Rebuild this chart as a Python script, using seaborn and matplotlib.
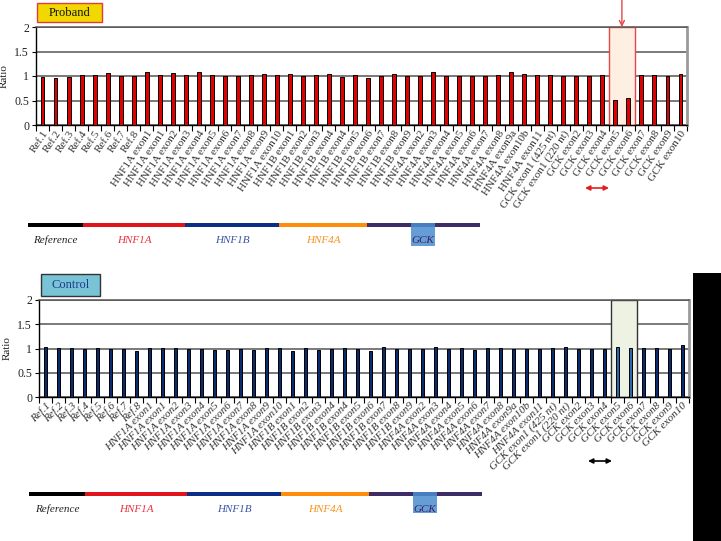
import numpy as np
import pandas as pd
import matplotlib
matplotlib.use('Agg')
import matplotlib.pyplot as plt
import seaborn as sns
from matplotlib.patches import Rectangle

# amplicon names (x axis)
categories = ['Ref.1', 'Ref.2', 'Ref.3', 'Ref.4', 'Ref.5', 'Ref.6', 'Ref.7', 'Ref.8',
              'HNF1A exon1', 'HNF1A exon1', 'HNF1A exon2', 'HNF1A exon3', 'HNF1A exon4',
              'HNF1A exon5', 'HNF1A exon6', 'HNF1A exon7', 'HNF1A exon8', 'HNF1A exon9',
              'HNF1A exon10',
              'HNF1B exon1', 'HNF1B exon2', 'HNF1B exon3', 'HNF1B exon4', 'HNF1B exon4',
              'HNF1B exon5', 'HNF1B exon6', 'HNF1B exon7', 'HNF1B exon8', 'HNF1B exon9',
              'HNF4A exon2', 'HNF4A exon3', 'HNF4A exon4', 'HNF4A exon5', 'HNF4A exon6',
              'HNF4A exon7', 'HNF4A exon8', 'HNF4A exon9a', 'HNF4A exon10b', 'HNF4A exon11',
              'GCK exon1 (425 nt)', 'GCK exon1 (220 nt)', 'GCK exon2', 'GCK exon3',
              'GCK exon4', 'GCK exon5', 'GCK exon6', 'GCK exon7', 'GCK exon8', 'GCK exon9',
              'GCK exon10']

proband_ratio = [0.98, 0.95, 0.98, 1.02, 1.02, 1.06, 0.99, 1.00,
                 1.08, 1.03, 1.06, 1.02, 1.09, 1.03, 1.00, 1.01, 1.02, 1.04, 1.02,
                 1.05, 0.99, 1.03, 1.04, 0.97, 1.02, 0.95, 1.00, 1.05, 1.00,
                 1.00, 1.08, 1.00, 1.00, 1.00, 1.00, 1.02, 1.08, 1.05, 1.02,
                 1.02, 1.00, 1.00, 1.00, 1.02, 0.52, 0.55, 1.02, 1.02, 0.99, 1.04]

control_ratio = [1.03, 1.02, 1.01, 0.99, 1.01, 0.99, 0.99, 0.95,
                 1.01, 1.01, 1.01, 0.99, 0.99, 0.97, 0.97, 1.00, 0.97, 1.01, 1.02,
                 0.95, 1.01, 0.97, 0.99, 1.02, 0.99, 0.94, 1.03, 1.00, 0.99,
                 0.99, 1.03, 0.99, 1.02, 0.97, 1.02, 1.01, 0.99, 0.98, 0.98,
                 1.01, 1.04, 0.99, 0.99, 0.99, 1.04, 1.02, 1.02, 1.02, 0.99, 1.07]

highlight = ['GCK exon5', 'GCK exon6']
genes = ['Reference', 'HNF1A', 'HNF1B', 'HNF4A', 'GCK']
gene_bar_colors = ['#000000', '#e0141b', '#0b2f86', '#ff8c0a', '#3d2c66']
gene_text_colors = ['#222222', '#e8323c', '#3a55a5', '#f7941d', '#3a2060']

sns.set_theme(style='white')
plt.rcParams['font.family'] = ['Liberation Serif', 'DejaVu Serif']

W, H = 721, 541
fig = plt.figure(figsize=(W / 100, H / 100), dpi=100)


def fx(px):
    return px / W


def fy(py):
    return 1 - py / H


def panel(left, right, top, bottom, values, color, hl_color, hl_face, hl_edge, rot, style):
    ax = fig.add_axes([fx(left), fy(bottom), (right - left) / W, (bottom - top) / H])
    df = pd.DataFrame({'pos': range(len(categories)), 'ratio': values})
    sns.barplot(data=df, x='pos', y='ratio', color=color, width=0.3, saturation=1,
                edgecolor='black', linewidth=0.7, ax=ax, zorder=3)
    i0 = categories.index(highlight[0])
    i1 = categories.index(highlight[1])
    if hl_color:
        for i in (i0, i1):
            ax.patches[i].set_facecolor(hl_color)
    ax.add_patch(Rectangle((i0 - 0.5, 0), i1 - i0 + 1, 2, facecolor=hl_face,
                           edgecolor=hl_edge, lw=1.0, zorder=1.5, clip_on=False))
    ax.set_xlim(-0.5, len(categories) - 0.5)
    ax.set_ylim(0, 2)
    ax.set_yticks([0, 0.5, 1, 1.5, 2])
    ax.set_yticklabels(['0', '0.5', '1', '1.5', '2'], fontsize=8.5, color='#222222')
    ax.yaxis.grid(True, color='#555555', lw=1.1)
    ax.set_axisbelow(True)
    ax.set_xticks(range(len(categories)))
    ax.set_xticklabels(categories, rotation=rot, ha='right', rotation_mode='anchor',
                       fontsize=8, style=style, color='#333333')
    ax.set_xticks(np.arange(-0.5, len(categories), 1), minor=True)
    ax.tick_params(axis='x', which='major', length=0, pad=3)
    ax.tick_params(axis='x', which='minor', bottom=True, length=4, width=0.8, color='black')
    ax.tick_params(axis='y', left=True, length=3, width=0.8, color='black', pad=2)
    ax.set_xlabel('')
    ax.set_ylabel('Ratio', fontsize=8, color='#222222')
    ax.yaxis.set_label_coords(-0.042, 0.5)
    for s in ('left', 'bottom'):
        ax.spines[s].set_color('black')
        ax.spines[s].set_linewidth(1.0)
    ax.spines['top'].set_color('#555555')
    ax.spines['top'].set_linewidth(1.1)
    ax.spines['right'].set_color('#9a9a9a')
    ax.spines['right'].set_linewidth(2.0)
    return ax


def gene_track(y, bounds, label_y, box):
    for k, g in enumerate(genes):
        fig.patches.append(Rectangle((fx(bounds[k]), fy(y + 2)), (bounds[k + 1] - bounds[k]) / W,
                                     4 / H, transform=fig.transFigure,
                                     facecolor=gene_bar_colors[k], edgecolor='none'))
    bx0, bx1, by0, by1 = box
    fig.patches.append(Rectangle((fx(bx0), fy(by1)), (bx1 - bx0) / W, (by1 - by0) / H,
                                 transform=fig.transFigure, facecolor='#4a8ccf',
                                 edgecolor='none', alpha=0.85))
    for k, g in enumerate(genes):
        cx = (bounds[k] + bounds[k + 1]) / 2 if g != 'GCK' else (bx0 + bx1) / 2
        fig.text(fx(cx), fy(label_y), g, ha='center', va='center', fontsize=8,
                 style='italic', color=gene_text_colors[k])


# Proband panel
ax1 = panel(36, 687, 27, 125, proband_ratio, '#e00000', None, '#fdf0e3', '#e84545', 56, 'normal')
ax1.annotate('', xy=(categories.index(highlight[0]) + 0.5, 2.0), xycoords='data',
             xytext=(0, 28), textcoords='offset pixels', annotation_clip=False,
             arrowprops=dict(arrowstyle='->', color='#e84545', lw=1.0,
                             shrinkA=0, shrinkB=0, mutation_scale=9))
fig.add_artist(Rectangle((fx(37), fy(22)), 65 / W, 19 / H, transform=fig.transFigure,
                         facecolor='#f0d800', edgecolor='#e03c3c', lw=1.0))
fig.text(fx(69.5), fy(12.5), 'Proband', ha='center', va='center', fontsize=9, color='#111111')
ax1.annotate('', xy=(fx(609), fy(188)), xycoords='figure fraction',
             xytext=(fx(585), fy(188)), textcoords='figure fraction',
             arrowprops=dict(arrowstyle='<|-|>', color='#e02020', lw=1.2,
                             shrinkA=0, shrinkB=0, mutation_scale=7))
gene_track(225, [28, 83, 185, 279, 367, 480], 240, (411, 435, 223, 246))

# Control panel
ax2 = panel(39, 689, 300, 397, control_ratio, '#0c2a70', '#2a68b0', '#eef2e2', '#333333', 45, 'italic')
fig.add_artist(Rectangle((fx(41), fy(296)), 59 / W, 22 / H, transform=fig.transFigure,
                         facecolor='#78c3d6', edgecolor='#333333', lw=1.0))
fig.text(fx(70.5), fy(285), 'Control', ha='center', va='center', fontsize=9, color='#1f3c8c')
ax2.annotate('', xy=(fx(612), fy(461)), xycoords='figure fraction',
             xytext=(fx(588), fy(461)), textcoords='figure fraction',
             arrowprops=dict(arrowstyle='<|-|>', color='black', lw=1.2,
                             shrinkA=0, shrinkB=0, mutation_scale=7))
gene_track(494, [29, 85, 187, 281, 369, 482], 509, (413, 437, 492, 513))

# black block at the right edge of the reference image
fig.add_artist(Rectangle((fx(693), 0), 30 / W, fy(273), transform=fig.transFigure,
                         facecolor='black', edgecolor='none', zorder=10))

fig.savefig('out.png', dpi=100)
